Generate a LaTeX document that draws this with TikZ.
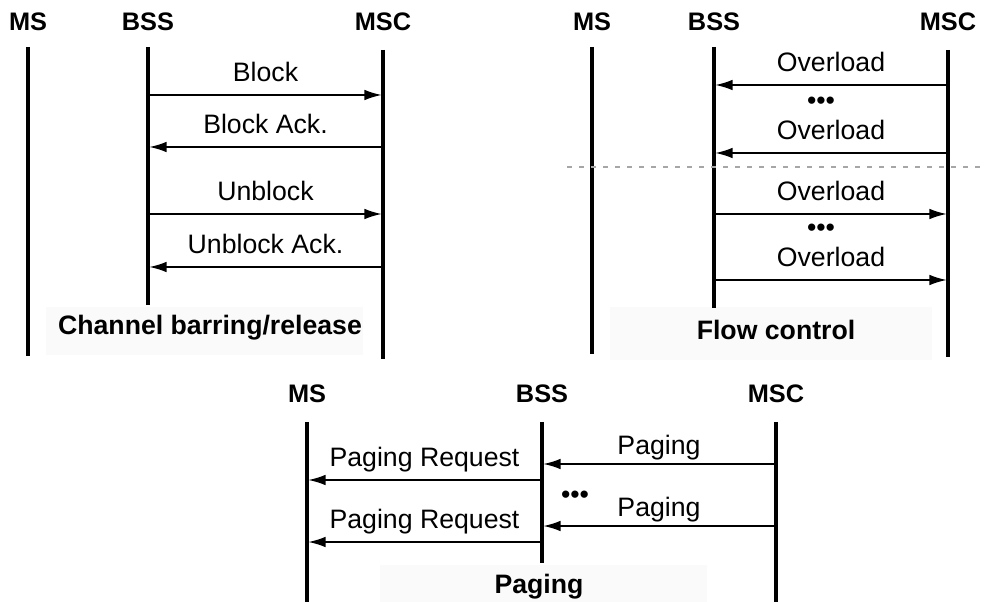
\documentclass[tikz,border=0pt]{standalone}
\usepackage{fontspec}
\setmainfont{Liberation Sans}
\usetikzlibrary{arrows.meta}
\tikzset{
  actor/.style={font=\fontsize{19}{22}\selectfont\bfseries},
  caption/.style={font=\fontsize{20}{24}\selectfont\bfseries},
  life/.style={line width=3pt},
  msg/.style={line width=1.2pt, -{Latex[length=13pt,width=8pt]}, shorten >=1pt},
  lbl/.style={midway, anchor=base, yshift=10pt, font=\fontsize{20}{24}\selectfont, inner sep=0pt},
  dots/.style={font=\fontsize{20}{24}\selectfont, inner sep=0pt},
  capbox/.style={fill=black!2, draw=none}
}
\begin{document}
\begin{tikzpicture}[x=0.75pt, y=-0.75pt]
  \useasboundingbox (0,0) rectangle (986,602);
  % faint boxes behind the captions
  \fill[capbox] (46,307) rectangle (363,355);
  \fill[capbox] (610,307) rectangle (932,360);
  \fill[capbox] (380,565) rectangle (707,602);
  % actors and lifelines
  \foreach \n/\t/\x/\y/\s/\e in {msA/MS/28/22/47/356, bssA/BSS/148/22/47/305, mscA/MSC/383/22/50/359,
      msB/MS/592/22/47/354, bssB/BSS/714/22/47/308, mscB/MSC/948/22/50/357,
      msC/MS/307/394/422/602, bssC/BSS/542/394/422/563, mscC/MSC/776/394/422/602} {
    \node[actor] (\n) at (\x,\y) {\t};
    \coordinate (\n top) at (\x,\s);
    \coordinate (\n end) at (\x,\e);
    \draw[life] (\n top) -- (\n end);
  }
  % channel barring/release
  \draw[msg] (bssAtop |- 0,95) -- (mscAtop |- 0,95) node[lbl] {Block};
  \draw[msg] (mscAtop |- 0,147) -- (bssAtop |- 0,147) node[lbl] {Block Ack.};
  \draw[msg] (bssAtop |- 0,214) -- (mscAtop |- 0,214) node[lbl] {Unblock};
  \draw[msg] (mscAtop |- 0,267) -- (bssAtop |- 0,267) node[lbl] {Unblock Ack.};
  \node[caption] (capA) at (210,328) {Channel barring/release};
  % flow control
  \draw[msg] (mscBtop |- 0,85) -- (bssBtop |- 0,85) node[lbl] {Overload};
  \node[dots] (dotsB1) at (821,103) {•••};
  \draw[msg] (mscBtop |- 0,153) -- (bssBtop |- 0,153) node[lbl] {Overload};
  \coordinate (sepL) at (567,167);
  \coordinate (sepR) at (986,167);
  \draw[gray!70, line width=0.8pt, dash pattern=on 4pt off 5pt] (sepL) -- (sepR);
  \draw[msg] (bssBtop |- 0,214) -- (mscBtop |- 0,214) node[lbl] {Overload};
  \node[dots] (dotsB2) at (821,230) {•••};
  \draw[msg] (bssBtop |- 0,280) -- (mscBtop |- 0,280) node[lbl] {Overload};
  \node[caption] (capB) at (776,330) {Flow control};
  % paging
  \draw[msg] (mscCtop |- 0,464) -- (bssCtop |- 0,464) node[lbl, yshift=-3pt] {Paging};
  \draw[msg] (bssCtop |- 0,480) -- (msCtop |- 0,480) node[lbl] {Paging Request};
  \node[dots] (dotsC) at (575,497) {•••};
  \draw[msg] (mscCtop |- 0,526) -- (bssCtop |- 0,526) node[lbl, yshift=-3pt] {Paging};
  \draw[msg] (bssCtop |- 0,542) -- (msCtop |- 0,542) node[lbl] {Paging Request};
  \node[caption] (capC) at (539,587) {Paging};
\end{tikzpicture}
\end{document}
